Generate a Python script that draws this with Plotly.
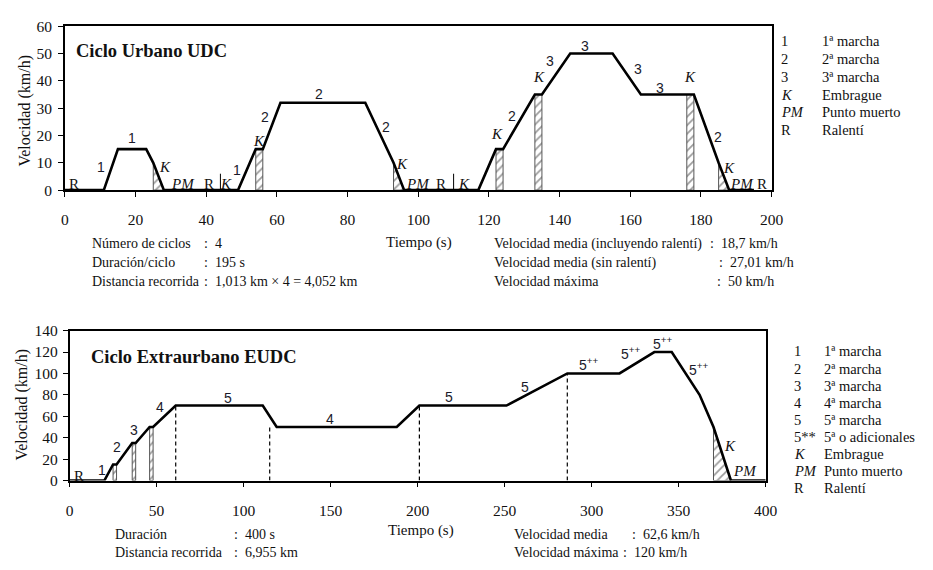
import numpy as np
import plotly.graph_objects as go

W, H = 933, 570

# ---------------- DATA ----------------
# Urban cycle UDC (ECE-15)
udc_time = [0, 11, 15, 23, 25, 28, 49, 54, 56, 61, 85, 93, 96, 117, 122, 124, 133, 135, 143, 155, 163, 176, 178, 185, 188, 195]
udc_speed = [0, 0, 15, 15, 10, 0, 0, 15, 15, 32, 32, 10, 0, 0, 15, 15, 35, 35, 50, 50, 35, 35, 35, 10, 0, 0]
udc_clutch = [(25, 28), (54, 56), (93, 96), (122, 124), (133, 135), (176, 178), (185, 188)]
udc_dividers = [44, 110]
udc_divider_h = 6
udc_xticks = list(range(0, 201, 20))
udc_yticks = list(range(0, 61, 10))

# Extra-urban cycle EUDC
eudc_time = [0, 20, 25, 27, 36, 38, 46, 48, 61, 111, 119, 188, 201, 251, 286, 316, 336, 346, 362, 370, 380, 400]
eudc_speed = [0, 0, 15, 15, 35, 35, 50, 50, 70, 70, 50, 50, 70, 70, 100, 100, 120, 120, 80, 50, 0, 0]
eudc_clutch = [(25, 27), (36, 38), (46, 48), (370, 380)]
eudc_dash_t = [61, 115, 201, 286]
eudc_dash_h = [70, 51, 70, 100]
eudc_xticks = list(range(0, 401, 50))
eudc_yticks = list(range(0, 141, 20))

# in-chart labels: (text, t, v, style)  g = gear, i = italic, r = roman
udc_labels = [
    ("R", 2.5, 2.4, "r"), ("1", 10.1, 8.3, "g"), ("1", 18.9, 19, "g"), ("K", 28.2, 8.3, "i"),
    ("PM", 33.3, 2.4, "i"), ("R", 40.7, 2.4, "r"), ("K", 45.6, 2.4, "i"), ("1", 48.8, 7.5, "g"),
    ("K", 54.9, 18, "i"), ("2", 56.7, 26.6, "g"), ("2", 71.8, 35.3, "g"), ("2", 90.8, 23.1, "g"),
    ("K", 95.3, 9.5, "i"), ("PM", 100, 2.4, "i"), ("R", 106.3, 2.4, "r"), ("K", 113, 2.4, "i"),
    ("K", 122.3, 20.4, "i"), ("2", 126.5, 27.2, "g"), ("K", 134.1, 41.4, "i"), ("3", 137.3, 47.1, "g"),
    ("3", 147.3, 52.7, "g"), ("3", 162.2, 44.4, "g"), ("3", 168.5, 37.3, "g"), ("K", 176.8, 41.4, "i"),
    ("2", 184.9, 19.6, "g"), ("K", 187.9, 8.0, "i"), ("PM", 191.6, 2.4, "i"), ("R", 197.4, 2.4, "r"),
]
eudc_labels = [
    ("R", 5.7, 4.5, "r"), ("1", 18.7, 10, "g"), ("1", 33.5, -14.3, "r"), ("2", 27.3, 31.2, "g"),
    ("3", 37.1, 47, "g"), ("4", 51.8, 68.5, "g"), ("5", 90.9, 77.3, "g"), ("4", 149.4, 57, "g"),
    ("5", 218.2, 78.2, "g"), ("5", 261.6, 87.3, "g"), ("5<sup>++</sup>", 298.3, 108.5, "g"),
    ("5<sup>++</sup>", 322.8, 119, "g"), ("5<sup>++</sup>", 341.1, 128, "g"), ("5<sup>++</sup>", 361.5, 104, "g"),
    ("K", 379.4, 31.8, "i"), ("PM", 387.9, 8.5, "i"),
]

udc_title = "Ciclo Urbano UDC"
eudc_title = "Ciclo Extraurbano EUDC"
y_title = "Velocidad (km/h)"
x_title = "Tiempo (s)"

udc_leg_keys = ["1", "2", "3", "<i>K</i>", "<i>PM</i>", "R"]
udc_leg_desc = ["1ª marcha", "2ª marcha", "3ª marcha", "Embrague", "Punto muerto", "Ralentí"]
eudc_leg_keys = ["1", "2", "3", "4", "5", "5**", "<i>K</i>", "<i>PM</i>", "R"]
eudc_leg_desc = ["1ª marcha", "2ª marcha", "3ª marcha", "4ª marcha", "5ª marcha", "5ª o adicionales",
                 "Embrague", "Punto muerto", "Ralentí"]

udc_stats_left = [("Número de ciclos", ":  4"), ("Duración/ciclo", ":  195 s"),
                  ("Distancia recorrida", ":  1,013 km × 4 = 4,052 km")]
udc_stats_right = [("Velocidad media (incluyendo ralentí)", ":  18,7 km/h"),
                   ("Velocidad media (sin ralentí)", ":  27,01 km/h"),
                   ("Velocidad máxima", ":  50 km/h")]
eudc_stats_left = [("Duración", ":  400 s"), ("Distancia recorrida", ":  6,955 km")]
eudc_stats_right = [("Velocidad media", ":  62,6 km/h"), ("Velocidad máxima", ":  120 km/h")]

# ---------------- STYLE ----------------
SERIF = "Liberation Serif"
SANS = "Liberation Sans"
INK = "#111111"


def px(x):
    return x / W


def py(y):
    return 1 - y / H


fig = go.Figure()


def hatch_poly(t, v, a, b):
    ts = [a] + [x for x in t if a < x < b] + [b]
    vs = list(np.interp(ts, t, v))
    return [a] + ts + [b, a], [0] + vs + [0, 0]


def add_cycle(t, v, clutch, xa, ya):
    for a, b in clutch:
        xs, ys = hatch_poly(t, v, a, b)
        fig.add_trace(go.Scatter(
            x=xs, y=ys, xaxis=xa, yaxis=ya, mode="lines", fill="toself",
            fillcolor="white",
            fillpattern=dict(shape="/", fgcolor="#3a3a3a", bgcolor="white", size=6, solidity=0.3),
            line=dict(color="#555555", width=1), hoverinfo="skip", showlegend=False))
    fig.add_trace(go.Scatter(x=t, y=v, xaxis=xa, yaxis=ya, mode="lines",
                             line=dict(color="black", width=2.6), showlegend=False))


add_cycle(udc_time, udc_speed, udc_clutch, "x", "y")
add_cycle(eudc_time, eudc_speed, eudc_clutch, "x2", "y2")

shapes = []
for d in udc_dividers:
    shapes.append(dict(type="line", xref="x", yref="y", x0=d, x1=d, y0=0, y1=udc_divider_h,
                       line=dict(color="black", width=1)))
for d, h in zip(eudc_dash_t, eudc_dash_h):
    shapes.append(dict(type="line", xref="x2", yref="y2", x0=d, x1=d, y0=0, y1=h,
                       line=dict(color="black", width=1.2, dash="4px,3px"), layer="below"))

ann = []


def lab(text, t, v, style, xr, yr):
    if style == "i":
        f = dict(family=SERIF, size=15, color=INK)
        text = "<i>" + text + "</i>"
    elif style == "r":
        f = dict(family=SERIF, size=15, color=INK)
    else:
        f = dict(family=SANS, size=14, color="#1a1a2a")
    ann.append(dict(text=text, x=t, y=v, xref=xr, yref=yr, showarrow=False, font=f,
                    xanchor="center", yanchor="middle"))


for L in udc_labels:
    lab(*L, "x", "y")
for L in eudc_labels:
    lab(*L, "x2", "y2")


def ptext(text, x, y, size=14, anchor="left", bold=False, angle=0):
    if bold:
        text = "<b>" + text + "</b>"
    ann.append(dict(text=text, x=px(x), y=py(y), xref="paper", yref="paper", showarrow=False,
                    font=dict(family=SERIF, size=size, color=INK), xanchor=anchor,
                    yanchor="middle", textangle=angle))


# titles
ptext(udc_title, 71, 43, size=18.5, bold=True)
ptext(eudc_title, 86, 359, size=18.5, bold=True)
# y titles
ptext(y_title, 21, 105, size=16, anchor="center", angle=-90)
ptext(y_title, 18, 408, size=16, anchor="center", angle=-90)
# x titles
ptext(x_title, 387, 241, size=15)
ptext(x_title, 389, 538, size=15)

# legends
for i, (k, d) in enumerate(zip(udc_leg_keys, udc_leg_desc)):
    y = 33 + i * 18.4
    ptext(k, 789, y, size=14.5)
    ptext(d, 830, y, size=14.5)
for i, (k, d) in enumerate(zip(eudc_leg_keys, eudc_leg_desc)):
    y = 353 + i * 17.6
    ptext(k, 802, y, size=14.5)
    ptext(d, 832, y, size=14.5)

# stats
for i, (a, b) in enumerate(udc_stats_left):
    y = 242 + i * 19.5
    ptext(a, 88, y)
    ptext(b, 201, y)
for i, (a, b) in enumerate(udc_stats_right):
    y = 242 + i * 19.5
    ptext(a, 497, y)
    ptext(b, [716, 725, 723][i], y)
for i, (a, b) in enumerate(eudc_stats_left):
    y = 541.5 + i * 19
    ptext(a, 111, y)
    ptext(b, 232, y)
for i, (a, b) in enumerate(eudc_stats_right):
    y = 541.5 + i * 19
    ptext(a, 517, y)
    ptext(b, [637, 628][i], y)

axis_common = dict(showgrid=False, zeroline=False, showline=True, linecolor="black", linewidth=1.5,
                   mirror=True, ticks="outside", ticklen=5, tickwidth=1.2, tickcolor="black",
                   tickfont=dict(family=SERIF, size=15.5, color=INK), fixedrange=True)

fig.update_layout(
    width=W, height=H, margin=dict(l=0, r=0, t=0, b=0),
    paper_bgcolor="white", plot_bgcolor="white", showlegend=False,
    xaxis=dict(domain=[px(62), px(781)], range=[0, 200], tickvals=udc_xticks, anchor="y",
               ticklabelstandoff=10, **axis_common),
    yaxis=dict(domain=[py(186.7), py(17.7)], range=[0, 60], tickvals=udc_yticks, anchor="x",
               ticklabelstandoff=3, **axis_common),
    xaxis2=dict(domain=[px(66.7), px(775)], range=[0, 400], tickvals=eudc_xticks, anchor="y2",
                ticklabelstandoff=10, **axis_common),
    yaxis2=dict(domain=[py(486), py(331.5)], range=[0, 140], tickvals=eudc_yticks, anchor="x2",
                ticklabelstandoff=2, **axis_common),
    shapes=shapes, annotations=ann,
)

fig.write_html("out.html")
